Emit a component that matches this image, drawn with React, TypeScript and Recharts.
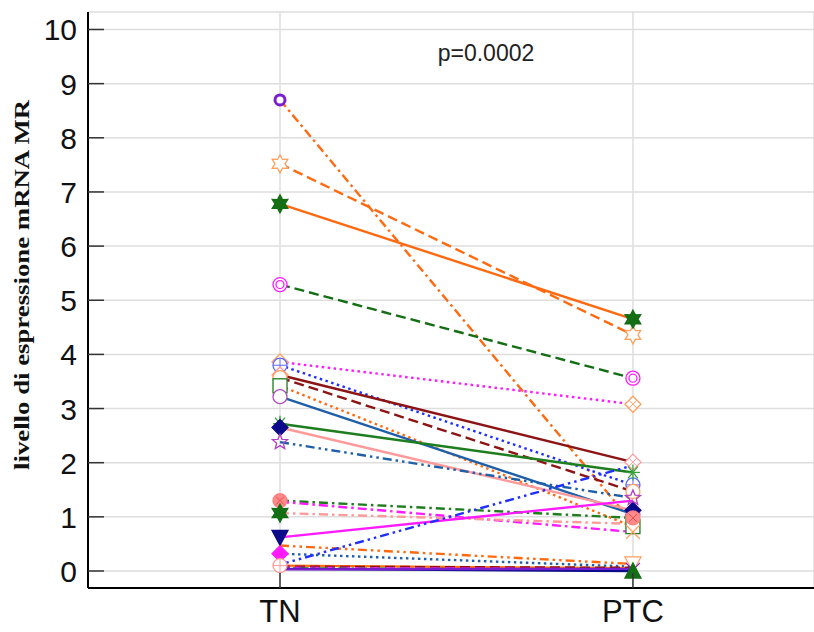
import React from 'react';
import { LineChart, Line, XAxis, YAxis, CartesianGrid } from 'recharts';

// ---- data ----
const categories = ['TN', 'PTC'];
const yTicks = [0, 1, 2, 3, 4, 5, 6, 7, 8, 9, 10];
const pValueLabel = 'p=0.0002';
const yAxisTitle = 'livello di espressione mRNA MR';

const tnValues = [8.70, 7.52, 6.78, 5.29, 3.86, 3.80, 3.62, 3.57, 3.42, 3.22, 2.72, 2.65, 2.38, 1.30, 1.28, 1.07, 0.62, 0.47, 0.32, 0.12, 0.10, 0.08, 0.06, 0.05, 0.04, 0.03];
const ptcValues = [0.88, 4.36, 4.65, 3.56, 3.08, 1.59, 2.01, 1.47, 0.82, 1.05, 1.82, 1.12, 1.35, 0.98, 0.72, 0.87, 1.30, 0.13, 0.08, 1.95, 0.05, 0.06, 0.03, 0.02, 0.00, 0.04];

// ---- styles ----
const ORANGE = '#ff6a10';
const DKGREEN = '#146e14';
const GREEN = '#1e7d1e';
const MAGENTA = '#ff1aff';
const BLUE = '#1f2fff';
const DKRED = '#8c1414';
const STEEL = '#1f5fa8';
const PINK = '#ff9a9a';
const NAVY = '#0a0a8a';
const PURPLE = '#7a1fd0';
const LORANGE = '#ffa060';

const DASH = '10 5';
const DOT = '2.5 3.5';
const DASHDOT = '9 4 2.5 4';
const DASHDOTDOT = '9 4 2.5 4 2.5 4';

type Style = { color: string; dash?: string; marker: string; mcolor: string; fill?: string; only?: number };
const seriesStyles: Style[] = [
  { color: ORANGE, dash: DASHDOT, marker: 'ring', mcolor: PURPLE },
  { color: ORANGE, dash: DASH, marker: 'star6', mcolor: LORANGE, fill: '#fff' },
  { color: ORANGE, marker: 'star6', mcolor: DKGREEN, fill: DKGREEN },
  { color: DKGREEN, dash: DASH, marker: 'dcircle', mcolor: MAGENTA },
  { color: MAGENTA, dash: DOT, marker: 'diamondPlus', mcolor: LORANGE },
  { color: BLUE, dash: DOT, marker: 'circlePlus', mcolor: '#5a6aff' },
  { color: DKRED, marker: 'diamondPlus', mcolor: PINK },
  { color: DKRED, dash: DASH, marker: 'circle', mcolor: LORANGE },
  { color: ORANGE, dash: DOT, marker: 'square', mcolor: GREEN },
  { color: STEEL, marker: 'circle', mcolor: '#b050c0' },
  { color: GREEN, marker: 'asterisk', mcolor: '#3aa03a' },
  { color: PINK, marker: 'diamond', mcolor: NAVY, fill: NAVY },
  { color: STEEL, dash: DASHDOTDOT, marker: 'star5', mcolor: '#b040c0' },
  { color: GREEN, dash: DASHDOT, marker: 'circleX', mcolor: '#ff8080', fill: '#ff8a8a' },
  { color: MAGENTA, dash: DASHDOT, marker: 'cross', mcolor: LORANGE, only: 1 },
  { color: PINK, dash: DASHDOT, marker: 'star6', mcolor: DKGREEN, fill: DKGREEN, only: 0 },
  { color: MAGENTA, marker: 'triDown', mcolor: NAVY, fill: NAVY, only: 0 },
  { color: ORANGE, dash: DASHDOTDOT, marker: 'triDown', mcolor: LORANGE, fill: '#fff', only: 1 },
  { color: STEEL, dash: DOT, marker: 'diamond', mcolor: MAGENTA, fill: MAGENTA, only: 0 },
  { color: BLUE, dash: DASHDOTDOT, marker: 'none', mcolor: BLUE },
  { color: ORANGE, marker: 'circlePlus', mcolor: PINK, only: 0 },
  { color: DKRED, dash: DASH, marker: 'none', mcolor: DKRED },
  { color: MAGENTA, dash: DASH, marker: 'none', mcolor: MAGENTA },
  { color: GREEN, dash: DASHDOT, marker: 'cross', mcolor: PURPLE, only: 1 },
  { color: NAVY, marker: 'triUp', mcolor: DKGREEN, fill: DKGREEN, only: 1 },
  { color: PURPLE, marker: 'none', mcolor: PURPLE },
];

const data = categories.map((c, i) => {
  const row: Record<string, number | string> = { x: i, name: c };
  tnValues.forEach((_, k) => {
    row['s' + k] = i === 0 ? tnValues[k] : ptcValues[k];
  });
  return row;
});

function starPoints(cx: number, cy: number, n: number, ro: number, ri: number) {
  const pts: string[] = [];
  for (let i = 0; i < 2 * n; i++) {
    const r = i % 2 === 0 ? ro : ri;
    const a = -Math.PI / 2 + (i * Math.PI) / n;
    pts.push(`${cx + r * Math.cos(a)},${cy + r * Math.sin(a)}`);
  }
  return pts.join(' ');
}

function Marker({ cx, cy, st }: { cx: number; cy: number; st: Style }) {
  const c = st.mcolor;
  const f = st.fill || '#fff';
  switch (st.marker) {
    case 'ring':
      return <circle cx={cx} cy={cy} r={5} fill="#fff" stroke={c} strokeWidth={3} />;
    case 'star6':
      return <polygon points={starPoints(cx, cy, 6, 9, 5)} fill={f} stroke={c} strokeWidth={1.3} />;
    case 'star5':
      return <polygon points={starPoints(cx, cy, 5, 8, 3.5)} fill="none" stroke={c} strokeWidth={1.3} />;
    case 'dcircle':
      return (
        <g>
          <circle cx={cx} cy={cy} r={7} fill="#fff" stroke={c} strokeWidth={1.3} />
          <circle cx={cx} cy={cy} r={4} fill="none" stroke={c} strokeWidth={1.3} />
        </g>
      );
    case 'diamondPlus':
      return (
        <g>
          <polygon points={`${cx},${cy - 8} ${cx + 8},${cy} ${cx},${cy + 8} ${cx - 8},${cy}`} fill="#fff" stroke={c} strokeWidth={1.3} />
          <line x1={cx - 4} y1={cy - 4} x2={cx + 4} y2={cy + 4} stroke={c} strokeWidth={1} />
          <line x1={cx - 4} y1={cy + 4} x2={cx + 4} y2={cy - 4} stroke={c} strokeWidth={1} />
        </g>
      );
    case 'diamond':
      return <polygon points={`${cx},${cy - 8} ${cx + 8},${cy} ${cx},${cy + 8} ${cx - 8},${cy}`} fill={f} stroke={c} strokeWidth={1.3} />;
    case 'circlePlus':
      return (
        <g>
          <circle cx={cx} cy={cy} r={7} fill="#fff" stroke={c} strokeWidth={1.3} />
          <line x1={cx - 7} y1={cy} x2={cx + 7} y2={cy} stroke={c} strokeWidth={1} />
          <line x1={cx} y1={cy - 7} x2={cx} y2={cy + 7} stroke={c} strokeWidth={1} />
        </g>
      );
    case 'circle':
      return <circle cx={cx} cy={cy} r={7} fill="#fff" stroke={c} strokeWidth={1.3} />;
    case 'circleX':
      return (
        <g>
          <circle cx={cx} cy={cy} r={7} fill={f} stroke={c} strokeWidth={1.3} />
          <line x1={cx - 4} y1={cy - 4} x2={cx + 4} y2={cy + 4} stroke="#e05050" strokeWidth={1} />
          <line x1={cx - 4} y1={cy + 4} x2={cx + 4} y2={cy - 4} stroke="#e05050" strokeWidth={1} />
        </g>
      );
    case 'square':
      return <rect x={cx - 7} y={cy - 7} width={14} height={14} fill="#fff" stroke={c} strokeWidth={1.3} />;
    case 'asterisk':
      return (
        <g stroke={c} strokeWidth={1.3}>
          <line x1={cx - 7} y1={cy} x2={cx + 7} y2={cy} />
          <line x1={cx - 5} y1={cy - 6} x2={cx + 5} y2={cy + 6} />
          <line x1={cx - 5} y1={cy + 6} x2={cx + 5} y2={cy - 6} />
          <line x1={cx} y1={cy - 8} x2={cx} y2={cy + 8} />
        </g>
      );
    case 'cross':
      return (
        <g stroke={c} strokeWidth={1.3}>
          <line x1={cx - 7} y1={cy - 7} x2={cx + 7} y2={cy + 7} />
          <line x1={cx - 7} y1={cy + 7} x2={cx + 7} y2={cy - 7} />
        </g>
      );
    case 'triDown':
      return <polygon points={`${cx - 8},${cy - 7} ${cx + 8},${cy - 7} ${cx},${cy + 8}`} fill={f} stroke={c} strokeWidth={1.3} />;
    case 'triUp':
      return <polygon points={`${cx - 8},${cy + 7} ${cx + 8},${cy + 7} ${cx},${cy - 8}`} fill={f} stroke={c} strokeWidth={1.3} />;
    default:
      return <g />;
  }
}

const YTick = (props: any) => {
  const { x, y, payload } = props;
  return (
    <g>
      <line x1={x} y1={y} x2={x + 16} y2={y} stroke="#333" strokeWidth={1.5} />
      <text x={x - 11} y={y} dy={11} textAnchor="end" fontSize={30} fill="#111" fontFamily="Liberation Sans, Arial, sans-serif">
        {payload.value}
      </text>
    </g>
  );
};

const XTick = (props: any) => {
  const { x, y, payload } = props;
  return (
    <g>
      <line x1={x} y1={y} x2={x} y2={y - 15} stroke="#333" strokeWidth={1.5} />
      <text x={x} y={y + 34} textAnchor="middle" fontSize={31} fill="#111" fontFamily="Liberation Sans, Arial, sans-serif">
        {categories[payload.value]}
      </text>
    </g>
  );
};

export default function App() {
  return (
    <div style={{ position: 'absolute', left: 0, top: 0, width: 814, height: 632, background: '#fff' }}>
      <LineChart width={814} height={632} data={data} margin={{ top: 12, right: 0, bottom: 0, left: 0 }}>
        <CartesianGrid stroke="#dedede" strokeWidth={1.5} />
        <XAxis
          dataKey="x"
          type="number"
          domain={[-0.544, 1.513]}
          ticks={[0, 1]}
          allowDataOverflow
          tickSize={0}
          tickMargin={0}
          tickLine={false}
          axisLine={{ stroke: '#000', strokeWidth: 2 }}
          tick={<XTick />}
          height={44}
        />
        <YAxis
          type="number"
          domain={[-0.314, 10.323]}
          ticks={yTicks}
          allowDataOverflow
          width={88}
          tickSize={0}
          tickMargin={0}
          tickLine={false}
          axisLine={{ stroke: '#000', strokeWidth: 2 }}
          tick={<YTick />}
        />
        {seriesStyles.map((st, k) => (
          <Line
            key={'s' + k}
            dataKey={'s' + k}
            stroke={st.color}
            strokeWidth={2.4}
            strokeDasharray={st.dash}
            isAnimationActive={false}
            dot={(p: any) =>
              st.only !== undefined && st.only !== p.index ? (
                <g key={'m' + k + '-' + p.index} />
              ) : (
                <Marker key={'m' + k + '-' + p.index} cx={p.cx} cy={p.cy} st={st} />
              )
            }
            activeDot={false}
          />
        ))}
      </LineChart>
      <svg width={814} height={632} style={{ position: 'absolute', left: 0, top: 0, pointerEvents: 'none' }}>
        <text x={486} y={61} textAnchor="middle" fontSize={23} fill="#222" fontFamily="Liberation Sans, Arial, sans-serif">
          {pValueLabel}
        </text>
        <text
          transform="translate(29,285) rotate(-90)"
          textAnchor="middle"
          fontSize={22}
          fontWeight="bold"
          fill="#111"
          textLength={370}
          lengthAdjust="spacingAndGlyphs"
          fontFamily="Liberation Serif, Times New Roman, serif"
        >
          {yAxisTitle}
        </text>
      </svg>
    </div>
  );
}
